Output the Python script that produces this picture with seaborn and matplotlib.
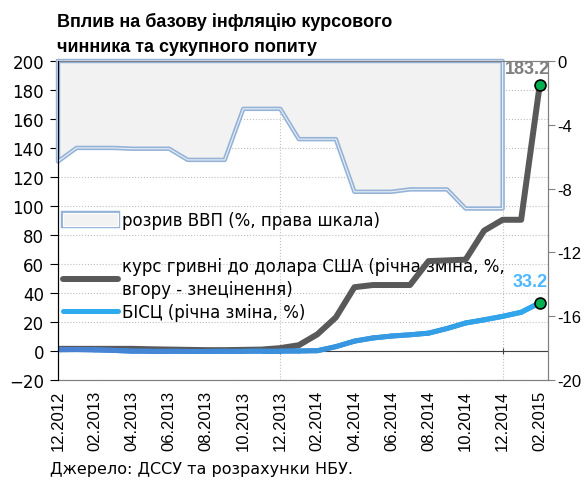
import numpy as np
import pandas as pd
import matplotlib
matplotlib.use('Agg')
import matplotlib.pyplot as plt
import seaborn as sns
from matplotlib.patches import Patch
from matplotlib.lines import Line2D
from matplotlib.collections import LineCollection
from matplotlib.colors import LinearSegmentedColormap
import matplotlib.patheffects as pe

sns.set_style('ticks')
plt.rcParams['font.family'] = ['DejaVu Sans']
plt.rcParams.update({'text.color': 'black', 'xtick.labelcolor': 'black', 'ytick.labelcolor': 'black'})

# monthly data, 12.2012 .. 02.2015
tick_labels = ['12.2012', '02.2013', '04.2013', '06.2013', '08.2013', '10.2013', '12.2013',
               '02.2014', '04.2014', '06.2014', '08.2014', '10.2014', '12.2014', '02.2015']
exch = [1.5, 1.5, 1.5, 1.5, 1.5, 1.2, 1.0, 0.8, 0.6, 0.6, 0.8, 1.0, 2.0, 4.0,
        11.5, 23.2, 44.0, 45.5, 45.5, 45.5, 62.0, 62.5, 63.0, 83.0, 90.5, 90.5, 183.2]
cpi = [0.9, 1.0, 0.8, 0.4, -0.1, -0.2, -0.2, -0.3, -0.3, -0.2, -0.2, -0.1, -0.1, 0.0,
       0.2, 3.0, 6.8, 9.0, 10.3, 11.2, 12.3, 15.5, 19.3, 21.5, 23.9, 26.7, 33.2]
# output gap, quarterly values repeated by month, right scale (12.2012 .. 12.2014)
gap = [-6.3, -5.45, -5.45, -5.45, -5.5, -5.5, -5.5, -6.2, -6.2, -6.2, -3.0, -3.0, -3.0,
       -4.9, -4.9, -4.9, -8.2, -8.2, -8.2, -8.05, -8.05, -8.05, -9.25, -9.25, -9.25]

df = pd.DataFrame({'t': np.arange(len(exch)), 'exch': exch, 'cpi': cpi})
gdf = pd.DataFrame({'t': np.arange(len(gap)), 'gap': gap})

GRAY = '#595959'
BLUE = '#2eaaee'
GAP_EDGE = '#95b3d7'
ARIAL = 'Liberation Sans'
blue_grad = LinearSegmentedColormap.from_list('bisc', ['#4a80d2', '#3a92dd', '#2eaaee'])

fig = plt.figure(figsize=(5.87, 4.85), dpi=100)
ax = fig.add_axes([58 / 587, 1 - 381 / 485, 490 / 587, 319 / 485])
ax2 = ax.twinx()

# left axis: lines
ax.set_xlim(0, 26.45)
ax.set_ylim(-20, 200)
ax.set_yticks(range(-20, 201, 20))
ax.yaxis.grid(True, ls=':', color='#bfbfbf', lw=0.8)
ax.vlines(df.t[12::12], -20, 200, ls=':', color='#bfbfbf', lw=0.8, zorder=1)
ax.axhline(0, color='#404040', lw=0.8, zorder=1.5)
ax.vlines(df.t[::12], -2.3, 2.3, color='#404040', lw=0.8, zorder=1.5)

sns.lineplot(data=df, x='t', y='exch', color=GRAY, lw=4.3, ax=ax, legend=False, zorder=2)
sns.lineplot(data=df, x='t', y='cpi', color='#3a92dd', lw=3.6, ax=ax, legend=False, zorder=2.1)
# BISC line has a left-to-right colour gradient in the original
pts = df[['t', 'cpi']].to_numpy()
segs = np.stack([pts[:-1], pts[1:]], axis=1)
lc = LineCollection(segs, colors=blue_grad(df.t[:-1] / df.t.max()), linewidths=3.6,
                    capstyle='round', zorder=2.2)
ax.add_collection(lc)

last = df.iloc[-1]
ax.scatter([last.t, last.t], [last.exch, last.cpi], s=62, color='#00b050',
           edgecolor='black', linewidth=1.2, zorder=5, clip_on=False)
ax.annotate(f'{last.exch:.1f}', (last.t, last.exch), xytext=(-9, 6), textcoords='offset points',
            ha='center', va='bottom', color='#7f7f7f', fontweight='bold', fontsize=13, family=ARIAL)
ax.annotate(f'{last.cpi:.1f}', (last.t, last.cpi), xytext=(-7, 9), textcoords='offset points',
            ha='center', va='bottom', color='#4db8ff', fontweight='bold', fontsize=13, family=ARIAL)

ax.set_xticks(df.t[::2])
ax.set_xticklabels(tick_labels, rotation=90, family=ARIAL)
ax.tick_params(axis='x', length=0, pad=7, labelsize=12)
ax.tick_params(axis='y', direction='out', length=6, width=0.8, color='black', pad=4, labelsize=12)
ax.set_xlabel('')
ax.set_ylabel('')
for s in ['top', 'right', 'bottom']:
    ax.spines[s].set_color('#808080')
ax.spines['left'].set_color('black')

# right axis: output gap area
ax2.fill_between(gdf.t, gdf.gap, 0, color='#f2f2f2', lw=0, zorder=1)
ox = [gdf.t.iloc[0]] + list(gdf.t) + [gdf.t.iloc[-1], gdf.t.iloc[0]]
oy = [0] + list(gdf.gap) + [0, 0]
ax2.plot(ox, oy, color=GAP_EDGE, lw=3.2, zorder=2, clip_on=False)
ax2.plot(ox, oy, color='white', lw=0.8, alpha=0.8, zorder=2.1, clip_on=False)
ax2.set_ylim(-20, 0)
ax2.set_yticks(range(-20, 1, 4))
ax2.set_yticklabels([str(v) for v in range(-20, 1, 4)], family=ARIAL)
ax2.tick_params(axis='y', direction='out', length=5, width=0.8, color='#808080', pad=1.5, labelsize=12)
for s in ['top', 'right', 'bottom']:
    ax2.spines[s].set_color('#808080')
ax2.spines['left'].set_color('black')
ax2.spines['left'].set_zorder(3)

# legends
gap_handle = Patch(facecolor='#f2f2f2', edgecolor='white', lw=0.8,
                   path_effects=[pe.Stroke(linewidth=3.2, foreground=GAP_EDGE), pe.Normal()])
leg1 = ax.legend([gap_handle], ['розрив ВВП (%, права шкала)'], loc='upper left',
                 bbox_to_anchor=(0.01, 0.53), frameon=False, fontsize=12,
                 handlelength=3.3, handleheight=0.8, handletextpad=0.25, borderpad=0, borderaxespad=0)
ax.add_artist(leg1)
line_handles = [Line2D([], [], color=GRAY, lw=4.3), Line2D([], [], color=BLUE, lw=3.6)]
leg2 = ax.legend(line_handles, ['курс гривні до долара США (річна зміна, %,\nвгору - знецінення)',
                                'БІСЦ (річна зміна, %)'],
                 loc='upper left', bbox_to_anchor=(0.01, 0.385), frameon=False, fontsize=12,
                 handlelength=3.3, handletextpad=0.25, labelspacing=0.3, borderpad=0, borderaxespad=0)
for txt in leg2.get_texts():
    txt.set_linespacing(1.35)
leg1.set_zorder(1)
leg2.set_zorder(1)

fig.text(57 / 587, 1 - 13 / 485, 'Вплив на базову інфляцію курсового\nчинника та сукупного попиту',
         fontsize=13, fontweight='bold', va='top', ha='left', linespacing=1.6, family=ARIAL,
         color='black')
fig.text(50 / 587, 1 - 470 / 485, 'Джерело: ДССУ та розрахунки НБУ.', fontsize=11.5,
         va='center', ha='left', color='black')

fig.savefig('out.png', dpi=100)
